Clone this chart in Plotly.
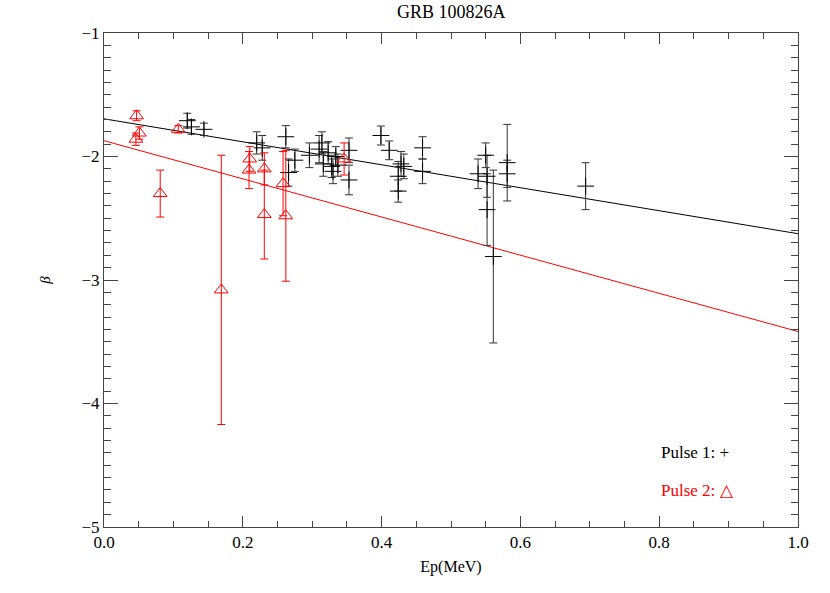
import plotly.graph_objects as go

# Pulse 1 (black crosses)
p1_ep = [0.120, 0.126, 0.144, 0.220, 0.228, 0.262, 0.266, 0.275, 0.296, 0.310,
         0.314, 0.316, 0.323, 0.328, 0.330, 0.334, 0.337, 0.353, 0.353, 0.399,
         0.411, 0.424, 0.424, 0.428, 0.432, 0.459, 0.459, 0.539, 0.550, 0.552,
         0.552, 0.561, 0.581, 0.581, 0.694]
p1_beta = [-1.71, -1.76, -1.78, -1.89, -1.93, -1.84, -2.13, -2.03, -1.99, -1.94,
           -1.89, -2.06, -1.97, -2.08, -2.12, -2.00, -2.07, -1.95, -2.19, -1.83,
           -1.95, -2.16, -2.28, -2.06, -2.08, -1.93, -2.12, -2.14, -1.99, -2.16,
           -2.43, -2.81, -2.05, -2.14, -2.24]
p1_err = [0.06, 0.06, 0.05, 0.09, 0.10, 0.09, 0.11, 0.09, 0.10, 0.11,
          0.09, 0.10, 0.09, 0.09, 0.10, 0.08, 0.09, 0.10, 0.12, 0.077,
          0.076, 0.12, 0.09, 0.10, 0.10, 0.09, 0.10, 0.12, 0.10, 0.17,
          0.29, 0.70, 0.31, 0.11, 0.19]

# Pulse 2 (red triangles)
p2_ep = [0.047, 0.051, 0.046, 0.081, 0.107, 0.169, 0.210, 0.209, 0.231, 0.231,
         0.258, 0.262, 0.346]
p2_beta = [-1.67, -1.81, -1.86, -2.30, -1.78, -3.08, -2.02, -2.11, -2.10, -2.47,
           -2.22, -2.48, -2.02]
p2_err = [0.04, 0.05, 0.05, 0.19, 0.03, 1.09, 0.10, 0.15, 0.13, 0.36,
          0.26, 0.53, 0.13]

# Linear fits: beta = a + b * Ep
fit1 = (-1.695, -0.93)
fit2 = (-1.872, -1.545)
fit_x = [0.0, 1.0]

FONT = "Liberation Serif"
AXC = "#444444"

fig = go.Figure()

fig.add_trace(go.Scatter(
    x=fit_x, y=[fit1[0] + fit1[1] * x for x in fit_x], mode="lines",
    line=dict(color="black", width=1), showlegend=False))
fig.add_trace(go.Scatter(
    x=fit_x, y=[fit2[0] + fit2[1] * x for x in fit_x], mode="lines",
    line=dict(color="red", width=1), showlegend=False))

fig.add_trace(go.Scatter(
    x=p1_ep, y=p1_beta, mode="markers",
    marker=dict(symbol="cross-thin", size=12, color="black",
                line=dict(width=1, color="black")),
    error_y=dict(type="data", array=p1_err, visible=True, color="#333333",
                 thickness=1, width=4),
    showlegend=False))

fig.add_trace(go.Scatter(
    x=p2_ep, y=p2_beta, mode="markers",
    marker=dict(symbol="triangle-up-open", size=12, color="red",
                line=dict(width=1, color="red")),
    error_y=dict(type="data", array=p2_err, visible=True, color="red",
                 thickness=1, width=4),
    showlegend=False))

axis_common = dict(
    showgrid=False, zeroline=False, showline=True, linecolor=AXC,
    linewidth=1, mirror="allticks", ticks="inside", tickcolor=AXC,
    tickwidth=1,
    tickfont=dict(family=FONT, size=17, color="black"),
)

fig.update_xaxes(
    range=[0, 1], tickvals=[0, 0.2, 0.4, 0.6, 0.8, 1.0],
    ticktext=["0.0", "0.2", "0.4", "0.6", "0.8", "1.0"], ticklen=11,
    minor=dict(dtick=0.05, ticks="inside", ticklen=6, tickcolor=AXC),
    title=dict(text="Ep(MeV)", font=dict(family=FONT, size=16, color="black"),
               standoff=9),
    **axis_common)
fig.update_yaxes(
    range=[-5, -1], tickvals=[-5, -4, -3, -2, -1],
    ticktext=["\u22125", "\u22124", "\u22123", "\u22122", "\u22121"],
    ticklen=14,
    minor=dict(dtick=0.1, ticks="inside", ticklen=7, tickcolor=AXC),
    title=dict(text="<i>\u03b2</i>", font=dict(family=FONT, size=15, color="black"),
               standoff=27),
    **axis_common)

fig.add_annotation(x=0.80, y=0.15, xref="paper", yref="paper", xanchor="left",
                   yanchor="middle", showarrow=False, text="Pulse 1: +",
                   font=dict(family=FONT, size=17, color="black"))
fig.add_annotation(x=0.80, y=0.073, xref="paper", yref="paper", xanchor="left",
                   yanchor="middle", showarrow=False, text="Pulse 2: \u25b3",
                   font=dict(family=FONT, size=17, color="red"))
fig.add_annotation(x=0.5, y=1, xref="paper", yref="paper", xanchor="center",
                   yanchor="middle", yshift=21, showarrow=False,
                   text="GRB 100826A",
                   font=dict(family=FONT, size=18, color="black"))

fig.update_layout(
    width=830, height=593,
    margin=dict(l=104, r=32, t=33, b=66),
    paper_bgcolor="white", plot_bgcolor="white",
)

fig.write_html(
    "out.html",
    config={"displayModeBar": False},
    post_script="document.body.style.margin='0';document.body.style.overflow='hidden';",
)
